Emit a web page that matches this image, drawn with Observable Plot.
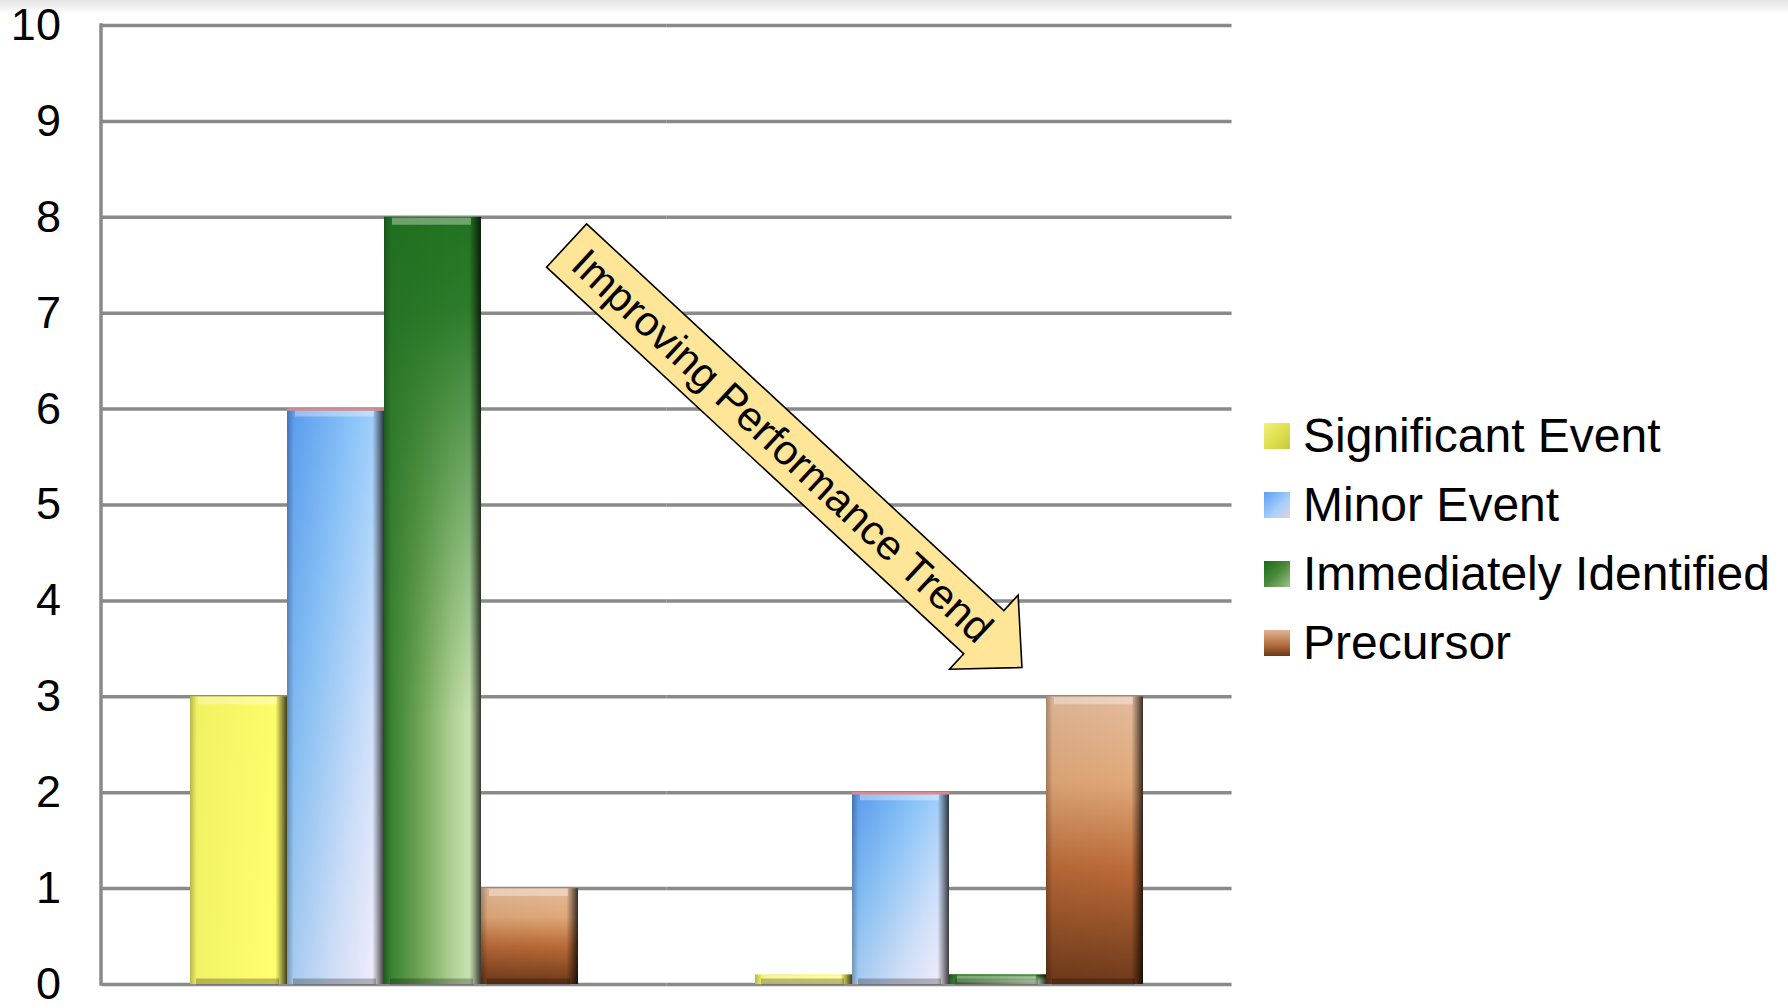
<!DOCTYPE html>
<html>
<head>
<meta charset="utf-8">
<script src="https://cdn.jsdelivr.net/npm/d3@7"></script>
<script src="https://cdn.jsdelivr.net/npm/@observablehq/plot@0.6"></script>
<style>
  html, body { margin: 0; padding: 0; }
  body {
    width: 1788px; height: 1008px; overflow: hidden; position: relative;
    font-family: "Liberation Sans", Arial, sans-serif;
    background: linear-gradient(to bottom, #e4e4e4 0px, #ffffff 14px);
  }
  #chart { position: absolute; left: 0; top: 0; }
  #legend { position: absolute; left: 1264px; top: 401px; }
  .row { display: flex; align-items: center; height: 69px; font-size: 48px; color: #000; white-space: nowrap; }
  .sw { width: 26px; height: 26px; margin-right: 13px; flex: none; box-sizing: border-box; }
</style>
</head>
<body>
<svg width="0" height="0" style="position:absolute">
  <defs>
    <linearGradient id="gSig" x1="0" y1="0" x2="1" y2="1">
      <stop offset="0" stop-color="#fbfb66"/>
      <stop offset="1" stop-color="#ffff70"/>
    </linearGradient>
    <linearGradient id="gMinor" x1="0" y1="0" x2="1" y2="1">
      <stop offset="0" stop-color="#5b9ff6"/>
      <stop offset="0.35" stop-color="#8cc6fb"/>
      <stop offset="0.7" stop-color="#cfe0fa"/>
      <stop offset="1" stop-color="#f7effa"/>
    </linearGradient>
    <linearGradient id="gImm" x1="0" y1="0" x2="1" y2="0">
      <stop offset="0" stop-color="#2f7f2c"/>
      <stop offset="0.35" stop-color="#6ea653"/>
      <stop offset="0.7" stop-color="#b0d294"/>
      <stop offset="1" stop-color="#d6ecc4"/>
    </linearGradient>
    <linearGradient id="gImmTop" x1="0" y1="0" x2="0" y2="1">
      <stop offset="0" stop-color="#217321" stop-opacity="1"/>
      <stop offset="0.12" stop-color="#257625" stop-opacity="0.95"/>
      <stop offset="0.65" stop-color="#3a8534" stop-opacity="0"/>
    </linearGradient>
    <linearGradient id="gPre" x1="0" y1="0" x2="0" y2="1">
      <stop offset="0" stop-color="#e4bb9c"/>
      <stop offset="0.3" stop-color="#e0a878"/>
      <stop offset="0.6" stop-color="#bb6a38"/>
      <stop offset="1" stop-color="#6e3a1a"/>
    </linearGradient>
    <linearGradient id="gBevel" x1="0" y1="0" x2="1" y2="0">
      <stop offset="0" stop-color="#000" stop-opacity="0.28"/>
      <stop offset="0.07" stop-color="#000" stop-opacity="0.04"/>
      <stop offset="0.88" stop-color="#000" stop-opacity="0"/>
      <stop offset="0.93" stop-color="#000" stop-opacity="0.3"/>
      <stop offset="1" stop-color="#000" stop-opacity="0.75"/>
    </linearGradient>
  </defs>
</svg>
<div id="chart"></div>
<div id="legend"></div>
<script>
// ---- data ----
const groups = ["Period 1", "Period 2"];
const series = ["Significant Event", "Minor Event", "Immediately Identified", "Precursor"];
const period1 = [3, 6, 8, 1];
const period2 = [0.1, 2, 0.1, 3];
const yTicks = [0, 1, 2, 3, 4, 5, 6, 7, 8, 9, 10];
const arrowLabel = "Improving Performance Trend";
const arrowFrom = [0.412, 7.70]; // [fraction of frame width, y value]
const arrowTo = [0.815, 3.30];

// ---- styles ----
const seriesFills = ["url(#gSig)", "url(#gMinor)", "url(#gImm)", "url(#gPre)"];
const swatchCss = [
  "linear-gradient(135deg,#f2f27a,#e0e050 50%,#c8c840)",
  "linear-gradient(135deg,#5d9ff2,#a8d0fa 60%,#e8d0e0)",
  "linear-gradient(135deg,#1c6a1c,#4a8a3a 50%,#9cc488)",
  "linear-gradient(to bottom,#e0b494,#b06a3a 60%,#6a3818)"
];

const seriesValues = [period1, period2];
const rows = groups.flatMap((g, gi) =>
  series.map((s, si) => ({group: g, series: s, value: seriesValues[gi][si]})));
const minorRows = rows.filter(d => d.series === "Minor Event");

const W = 1250, H = 1008;
const mL = 101, mR = 19, mT = 25, mB = 24;
const padInner = 0.31, padOuter = padInner / 2;
const fw = W - mL - mR;
const ext = (fw / groups.length) * padOuter; // distance from frame edge to first facet
const gridColor = "#8a8a8a";

const chart = Plot.plot({
  width: W, height: H,
  marginLeft: mL, marginRight: mR, marginTop: mT, marginBottom: mB,
  style: {fontFamily: "'Liberation Sans', Arial, sans-serif", background: "transparent", color: "#000", overflow: "visible"},
  fx: {domain: groups, paddingInner: padInner, paddingOuter: padOuter, axis: null, label: null},
  x: {domain: series, padding: 0, axis: null},
  y: {domain: [0, 10], axis: null},
  color: {domain: series, range: seriesFills},
  marks: [
    Plot.ruleY(yTicks, {stroke: gridColor, strokeWidth: 3.5, insetLeft: -ext, insetRight: -ext}),
    Plot.barY(rows, {fx: "group", x: "series", y: "value", fill: "series"}),
    Plot.barY(rows.filter(d => d.series === "Immediately Identified"),
      {fx: "group", x: "series", y: "value", fill: "url(#gImmTop)"}),
    Plot.barY(rows, {fx: "group", x: "series", y: "value", fill: "url(#gBevel)"}),
    Plot.tickY(rows, {fx: "group", x: "series", y: "value", stroke: "#fff", strokeOpacity: 0.35, strokeWidth: 7, dy: 4, insetLeft: 8, insetRight: 10}),
    Plot.tickY(rows, {fx: "group", x: "series", y: 0, stroke: "#000", strokeOpacity: 0.25, strokeWidth: 6, dy: -3, insetLeft: 6, insetRight: 8}),
    Plot.tickY(minorRows, {fx: "group", x: "series", y: "value", stroke: "#d98a8e", strokeWidth: 2.5, dy: 0.5}),
    Plot.axisY(yTicks, {anchor: "left", tickSize: 0, tickPadding: 41 + ext, fontSize: 45, fill: "#000", label: null, tickFormat: d => String(d)})
  ]
});
document.getElementById("chart").appendChild(chart);

// vertical axis line at the frame's left edge, through the y scale
const yS = chart.scale("y");
d3.select(chart).append("line")
  .attr("x1", mL).attr("x2", mL)
  .attr("y1", yS.apply(yTicks[0]) + 1.75).attr("y2", yS.apply(yTicks[yTicks.length - 1]) - 1.75)
  .attr("stroke", gridColor).attr("stroke-width", 3.5);

// ---- annotation arrow, placed through the plot's y scale ----
const p0 = [mL + arrowFrom[0] * fw, yS.apply(arrowFrom[1])];
const p1 = [mL + arrowTo[0] * fw, yS.apply(arrowTo[1])];
const L = Math.hypot(p1[0] - p0[0], p1[1] - p0[1]);
const ang = Math.atan2(p1[1] - p0[1], p1[0] - p0[0]) * 180 / Math.PI;
const sh = 29.5, hh = 50.5, hl = 52;
const g = d3.select(chart).append("g").attr("transform", `translate(${p0[0]},${p0[1]}) rotate(${ang})`);
g.append("path")
  .attr("d", `M0,${-sh}L${L - hl},${-sh}L${L - hl},${-hh}L${L},0L${L - hl},${hh}L${L - hl},${sh}L0,${sh}Z`)
  .attr("fill", "#ffe597").attr("stroke", "#000").attr("stroke-width", 1.6).attr("stroke-linejoin", "miter");
g.append("text")
  .attr("x", (L - hl) / 2 + 10).attr("y", 0)
  .attr("text-anchor", "middle").attr("dominant-baseline", "central")
  .attr("font-size", 42).attr("fill", "#000")
  .text(arrowLabel);

// ---- legend ----
const leg = d3.select("#legend");
series.forEach((s, i) => {
  const r = leg.append("div").attr("class", "row");
  r.append("div").attr("class", "sw").style("background", swatchCss[i]);
  r.append("span").text(s);
});
</script>
</body>
</html>
